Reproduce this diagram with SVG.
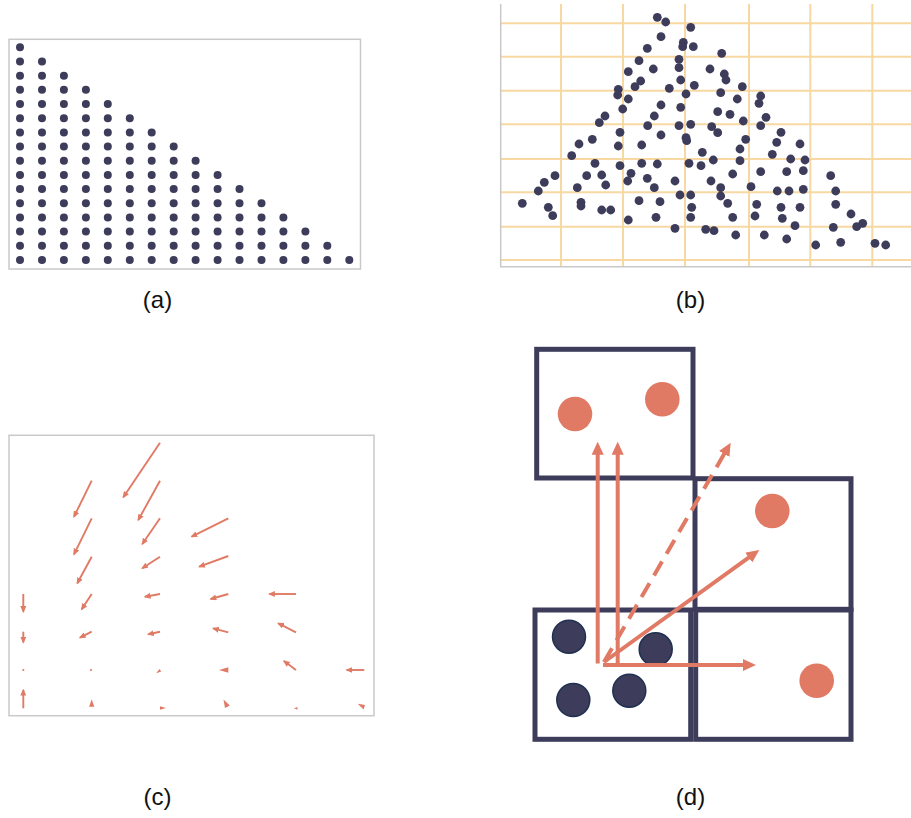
<svg xmlns="http://www.w3.org/2000/svg" width="911" height="818" viewBox="0 0 911 818">
<style>
.frame{fill:none;stroke:#c9c9c9;stroke-width:1.5}
.grid line{stroke:#f8d8a2;stroke-width:2}
.lbl{font-family:"Liberation Sans",Arial,sans-serif;font-size:24px;fill:#111;text-anchor:middle}
.qv{stroke:#e07a64;stroke-width:1.9;fill:none;marker-end:url(#qh)}
.qt{fill:#e07a64}
.box{fill:none;stroke:#3d3c5a;stroke-width:5}
.oc{fill:#e07a64}
.dc{fill:#3d3c5a;stroke:#1f3050;stroke-width:1.5}
.ar{stroke:#e07a64;stroke-width:4;fill:none;marker-end:url(#dh)}
</style>
<defs>
<marker id="qh" markerUnits="userSpaceOnUse" markerWidth="7" markerHeight="6" viewBox="0 0 10 10" refX="8" refY="5" orient="auto" preserveAspectRatio="none"><path d="M0,0 L10,5 L0,10 z" fill="#e07a64"/></marker>
<marker id="dh" markerUnits="userSpaceOnUse" markerWidth="13" markerHeight="12" viewBox="0 0 13 12" refX="5" refY="6" orient="auto"><path d="M0,0 L13,6 L0,12 z" fill="#e07a64"/></marker>
</defs>
<rect width="911" height="818" fill="#fff"/>

<!-- Panel (a) -->
<g id="panel-a">
<rect class="frame" x="9" y="39.3" width="351.5" height="229.7"/>
<g fill="#3d3c5a">
<circle cx="20" cy="47.3" r="4"/>
<circle cx="20" cy="61.5" r="4"/><circle cx="42" cy="61.5" r="4"/>
<circle cx="20" cy="75.7" r="4"/><circle cx="42" cy="75.7" r="4"/><circle cx="63.9" cy="75.7" r="4"/>
<circle cx="20" cy="89.8" r="4"/><circle cx="42" cy="89.8" r="4"/><circle cx="63.9" cy="89.8" r="4"/><circle cx="85.9" cy="89.8" r="4"/>
<circle cx="20" cy="104" r="4"/><circle cx="42" cy="104" r="4"/><circle cx="63.9" cy="104" r="4"/><circle cx="85.9" cy="104" r="4"/><circle cx="107.8" cy="104" r="4"/>
<circle cx="20" cy="118.2" r="4"/><circle cx="42" cy="118.2" r="4"/><circle cx="63.9" cy="118.2" r="4"/><circle cx="85.9" cy="118.2" r="4"/><circle cx="107.8" cy="118.2" r="4"/><circle cx="129.8" cy="118.2" r="4"/>
<circle cx="20" cy="132.4" r="4"/><circle cx="42" cy="132.4" r="4"/><circle cx="63.9" cy="132.4" r="4"/><circle cx="85.9" cy="132.4" r="4"/><circle cx="107.8" cy="132.4" r="4"/><circle cx="129.8" cy="132.4" r="4"/><circle cx="151.7" cy="132.4" r="4"/>
<circle cx="20" cy="146.6" r="4"/><circle cx="42" cy="146.6" r="4"/><circle cx="63.9" cy="146.6" r="4"/><circle cx="85.9" cy="146.6" r="4"/><circle cx="107.8" cy="146.6" r="4"/><circle cx="129.8" cy="146.6" r="4"/><circle cx="151.7" cy="146.6" r="4"/><circle cx="173.7" cy="146.6" r="4"/>
<circle cx="20" cy="160.7" r="4"/><circle cx="42" cy="160.7" r="4"/><circle cx="63.9" cy="160.7" r="4"/><circle cx="85.9" cy="160.7" r="4"/><circle cx="107.8" cy="160.7" r="4"/><circle cx="129.8" cy="160.7" r="4"/><circle cx="151.7" cy="160.7" r="4"/><circle cx="173.7" cy="160.7" r="4"/><circle cx="195.6" cy="160.7" r="4"/>
<circle cx="20" cy="174.9" r="4"/><circle cx="42" cy="174.9" r="4"/><circle cx="63.9" cy="174.9" r="4"/><circle cx="85.9" cy="174.9" r="4"/><circle cx="107.8" cy="174.9" r="4"/><circle cx="129.8" cy="174.9" r="4"/><circle cx="151.7" cy="174.9" r="4"/><circle cx="173.7" cy="174.9" r="4"/><circle cx="195.6" cy="174.9" r="4"/><circle cx="217.6" cy="174.9" r="4"/>
<circle cx="20" cy="189.1" r="4"/><circle cx="42" cy="189.1" r="4"/><circle cx="63.9" cy="189.1" r="4"/><circle cx="85.9" cy="189.1" r="4"/><circle cx="107.8" cy="189.1" r="4"/><circle cx="129.8" cy="189.1" r="4"/><circle cx="151.7" cy="189.1" r="4"/><circle cx="173.7" cy="189.1" r="4"/><circle cx="195.6" cy="189.1" r="4"/><circle cx="217.6" cy="189.1" r="4"/><circle cx="239.5" cy="189.1" r="4"/>
<circle cx="20" cy="203.3" r="4"/><circle cx="42" cy="203.3" r="4"/><circle cx="63.9" cy="203.3" r="4"/><circle cx="85.9" cy="203.3" r="4"/><circle cx="107.8" cy="203.3" r="4"/><circle cx="129.8" cy="203.3" r="4"/><circle cx="151.7" cy="203.3" r="4"/><circle cx="173.7" cy="203.3" r="4"/><circle cx="195.6" cy="203.3" r="4"/><circle cx="217.6" cy="203.3" r="4"/><circle cx="239.5" cy="203.3" r="4"/><circle cx="261.5" cy="203.3" r="4"/>
<circle cx="20" cy="217.5" r="4"/><circle cx="42" cy="217.5" r="4"/><circle cx="63.9" cy="217.5" r="4"/><circle cx="85.9" cy="217.5" r="4"/><circle cx="107.8" cy="217.5" r="4"/><circle cx="129.8" cy="217.5" r="4"/><circle cx="151.7" cy="217.5" r="4"/><circle cx="173.7" cy="217.5" r="4"/><circle cx="195.6" cy="217.5" r="4"/><circle cx="217.6" cy="217.5" r="4"/><circle cx="239.5" cy="217.5" r="4"/><circle cx="261.5" cy="217.5" r="4"/><circle cx="283.4" cy="217.5" r="4"/>
<circle cx="20" cy="231.6" r="4"/><circle cx="42" cy="231.6" r="4"/><circle cx="63.9" cy="231.6" r="4"/><circle cx="85.9" cy="231.6" r="4"/><circle cx="107.8" cy="231.6" r="4"/><circle cx="129.8" cy="231.6" r="4"/><circle cx="151.7" cy="231.6" r="4"/><circle cx="173.7" cy="231.6" r="4"/><circle cx="195.6" cy="231.6" r="4"/><circle cx="217.6" cy="231.6" r="4"/><circle cx="239.5" cy="231.6" r="4"/><circle cx="261.5" cy="231.6" r="4"/><circle cx="283.4" cy="231.6" r="4"/><circle cx="305.4" cy="231.6" r="4"/>
<circle cx="20" cy="245.8" r="4"/><circle cx="42" cy="245.8" r="4"/><circle cx="63.9" cy="245.8" r="4"/><circle cx="85.9" cy="245.8" r="4"/><circle cx="107.8" cy="245.8" r="4"/><circle cx="129.8" cy="245.8" r="4"/><circle cx="151.7" cy="245.8" r="4"/><circle cx="173.7" cy="245.8" r="4"/><circle cx="195.6" cy="245.8" r="4"/><circle cx="217.6" cy="245.8" r="4"/><circle cx="239.5" cy="245.8" r="4"/><circle cx="261.5" cy="245.8" r="4"/><circle cx="283.4" cy="245.8" r="4"/><circle cx="305.4" cy="245.8" r="4"/><circle cx="327.3" cy="245.8" r="4"/>
<circle cx="20" cy="260" r="4"/><circle cx="42" cy="260" r="4"/><circle cx="63.9" cy="260" r="4"/><circle cx="85.9" cy="260" r="4"/><circle cx="107.8" cy="260" r="4"/><circle cx="129.8" cy="260" r="4"/><circle cx="151.7" cy="260" r="4"/><circle cx="173.7" cy="260" r="4"/><circle cx="195.6" cy="260" r="4"/><circle cx="217.6" cy="260" r="4"/><circle cx="239.5" cy="260" r="4"/><circle cx="261.5" cy="260" r="4"/><circle cx="283.4" cy="260" r="4"/><circle cx="305.4" cy="260" r="4"/><circle cx="327.3" cy="260" r="4"/><circle cx="349.3" cy="260" r="4"/>
</g>
<text class="lbl" x="157.5" y="308">(a)</text>
</g>

<!-- Panel (b) -->
<g id="panel-b">
<g class="grid">
<line x1="561" y1="4" x2="561" y2="266"/><line x1="623" y1="4" x2="623" y2="266"/><line x1="685" y1="4" x2="685" y2="266"/><line x1="749" y1="4" x2="749" y2="266"/><line x1="810.3" y1="4" x2="810.3" y2="266"/><line x1="872.3" y1="4" x2="872.3" y2="266"/>
<line x1="501" y1="23.3" x2="911" y2="23.3"/><line x1="501" y1="56.7" x2="911" y2="56.7"/><line x1="501" y1="90.7" x2="911" y2="90.7"/><line x1="501" y1="124.3" x2="911" y2="124.3"/><line x1="501" y1="159" x2="911" y2="159"/><line x1="501" y1="192.3" x2="911" y2="192.3"/><line x1="501" y1="226.7" x2="911" y2="226.7"/><line x1="501" y1="260" x2="911" y2="260"/>
</g>
<path d="M500.7,4 V266.8 H911" fill="none" stroke="#c9c9c9" stroke-width="1.5"/>
<g fill="#3d3c5a">
<circle cx="657.3" cy="17.3" r="4.4"/><circle cx="665.7" cy="22" r="4.4"/><circle cx="690.7" cy="27.3" r="4.4"/><circle cx="661" cy="36.7" r="4.4"/><circle cx="683.3" cy="42.3" r="4.4"/><circle cx="682.7" cy="46.7" r="4.4"/><circle cx="693.3" cy="46.7" r="4.4"/><circle cx="647.3" cy="48.3" r="4.4"/><circle cx="721.7" cy="53.3" r="4.4"/><circle cx="639" cy="60.7" r="4.4"/>
<circle cx="679" cy="59.3" r="4.4"/><circle cx="679" cy="67.7" r="4.4"/><circle cx="653.3" cy="69" r="4.4"/><circle cx="710" cy="69" r="4.4"/><circle cx="628.3" cy="71.7" r="4.4"/><circle cx="724.3" cy="74" r="4.4"/><circle cx="726" cy="80" r="4.4"/><circle cx="640.7" cy="81" r="4.4"/><circle cx="680.7" cy="80" r="4.4"/><circle cx="635" cy="86.7" r="4.4"/>
<circle cx="694.3" cy="85.3" r="4.4"/><circle cx="669.3" cy="88.3" r="4.4"/><circle cx="742.3" cy="86.7" r="4.4"/><circle cx="618.3" cy="89.3" r="4.4"/><circle cx="617.7" cy="95" r="4.4"/><circle cx="686" cy="94" r="4.4"/><circle cx="720.7" cy="92.7" r="4.4"/><circle cx="760.7" cy="96" r="4.4"/><circle cx="628.3" cy="99" r="4.4"/><circle cx="737.3" cy="99" r="4.4"/>
<circle cx="759" cy="103.3" r="4.4"/><circle cx="661" cy="105" r="4.4"/><circle cx="622.7" cy="109" r="4.4"/><circle cx="680.7" cy="107.3" r="4.4"/><circle cx="717.7" cy="111.7" r="4.4"/><circle cx="730" cy="114.3" r="4.4"/><circle cx="605" cy="116" r="4.4"/><circle cx="654.3" cy="116" r="4.4"/><circle cx="766" cy="117.3" r="4.4"/><circle cx="599.3" cy="122.7" r="4.4"/>
<circle cx="743.3" cy="121" r="4.4"/><circle cx="647.7" cy="125.7" r="4.4"/><circle cx="679" cy="125.7" r="4.4"/><circle cx="690.7" cy="124.3" r="4.4"/><circle cx="711.7" cy="126.7" r="4.4"/><circle cx="760.7" cy="125.7" r="4.4"/><circle cx="717.7" cy="132.7" r="4.4"/><circle cx="620" cy="132.3" r="4.4"/><circle cx="661" cy="135" r="4.4"/><circle cx="781" cy="132.3" r="4.4"/>
<circle cx="592.3" cy="139.3" r="4.4"/><circle cx="686" cy="137.7" r="4.4"/><circle cx="686.7" cy="140.7" r="4.4"/><circle cx="745.7" cy="139.3" r="4.4"/><circle cx="579" cy="144" r="4.4"/><circle cx="618.3" cy="146" r="4.4"/><circle cx="641.7" cy="145" r="4.4"/><circle cx="776.7" cy="142.3" r="4.4"/><circle cx="800" cy="144" r="4.4"/><circle cx="740" cy="149" r="4.4"/>
<circle cx="702.3" cy="152.3" r="4.4"/><circle cx="571.7" cy="155.7" r="4.4"/><circle cx="772.3" cy="154.3" r="4.4"/><circle cx="790.7" cy="159" r="4.4"/><circle cx="805" cy="160" r="4.4"/><circle cx="713.3" cy="160" r="4.4"/><circle cx="740" cy="160.7" r="4.4"/><circle cx="595" cy="163.3" r="4.4"/><circle cx="641.7" cy="163.3" r="4.4"/><circle cx="657.3" cy="164" r="4.4"/>
<circle cx="689" cy="163.3" r="4.4"/><circle cx="701" cy="165.7" r="4.4"/><circle cx="620" cy="165.7" r="4.4"/><circle cx="555" cy="175.7" r="4.4"/><circle cx="586.7" cy="175.7" r="4.4"/><circle cx="601.7" cy="175" r="4.4"/><circle cx="631" cy="173.3" r="4.4"/><circle cx="647.3" cy="178.3" r="4.4"/><circle cx="732.7" cy="174" r="4.4"/><circle cx="760.7" cy="171.7" r="4.4"/>
<circle cx="786.7" cy="171.7" r="4.4"/><circle cx="803.3" cy="170.7" r="4.4"/><circle cx="830.7" cy="175.7" r="4.4"/><circle cx="544.3" cy="182.3" r="4.4"/><circle cx="627.7" cy="181" r="4.4"/><circle cx="675" cy="181" r="4.4"/><circle cx="711" cy="181" r="4.4"/><circle cx="605.7" cy="185" r="4.4"/><circle cx="577.3" cy="187.7" r="4.4"/><circle cx="654.3" cy="187.7" r="4.4"/>
<circle cx="720.7" cy="187.7" r="4.4"/><circle cx="751" cy="186.7" r="4.4"/><circle cx="538.3" cy="191" r="4.4"/><circle cx="777.3" cy="191" r="4.4"/><circle cx="789" cy="191" r="4.4"/><circle cx="803.3" cy="189.3" r="4.4"/><circle cx="835.7" cy="191" r="4.4"/><circle cx="680" cy="195" r="4.4"/><circle cx="690.7" cy="195" r="4.4"/><circle cx="720.7" cy="196" r="4.4"/>
<circle cx="522.3" cy="203.3" r="4.4"/><circle cx="581" cy="202.3" r="4.4"/><circle cx="581" cy="206" r="4.4"/><circle cx="639" cy="200.7" r="4.4"/><circle cx="660" cy="201.7" r="4.4"/><circle cx="727.7" cy="203.3" r="4.4"/><circle cx="756.7" cy="204.3" r="4.4"/><circle cx="835.7" cy="204.3" r="4.4"/><circle cx="548.3" cy="207.3" r="4.4"/><circle cx="601.7" cy="210" r="4.4"/>
<circle cx="610.7" cy="210" r="4.4"/><circle cx="691.7" cy="207.3" r="4.4"/><circle cx="781" cy="207.3" r="4.4"/><circle cx="800" cy="207.3" r="4.4"/><circle cx="552.7" cy="215.7" r="4.4"/><circle cx="628.3" cy="220" r="4.4"/><circle cx="656" cy="217.3" r="4.4"/><circle cx="690.7" cy="217.3" r="4.4"/><circle cx="732.7" cy="217.3" r="4.4"/><circle cx="755" cy="216" r="4.4"/>
<circle cx="782.3" cy="218.3" r="4.4"/><circle cx="851" cy="214" r="4.4"/><circle cx="675" cy="228.3" r="4.4"/><circle cx="705.7" cy="229.3" r="4.4"/><circle cx="714" cy="230.7" r="4.4"/><circle cx="795" cy="225.7" r="4.4"/><circle cx="833.3" cy="227.3" r="4.4"/><circle cx="856.7" cy="226.7" r="4.4"/><circle cx="862.7" cy="223.3" r="4.4"/><circle cx="735.7" cy="235" r="4.4"/>
<circle cx="764.3" cy="235" r="4.4"/><circle cx="786.7" cy="239" r="4.4"/><circle cx="815.7" cy="245" r="4.4"/><circle cx="840.7" cy="242.3" r="4.4"/><circle cx="875" cy="243.3" r="4.4"/><circle cx="885.7" cy="245" r="4.4"/>
</g>
<text class="lbl" x="690.5" y="308">(b)</text>
</g>

<!-- Panel (c) -->
<g id="panel-c">
<rect class="frame" x="9" y="435.3" width="365" height="280.4"/>
<g class="qv">
<path d="M160,442.7 L123.3,497.3"/>
<path d="M91.7,480.7 L74,516.7"/>
<path d="M160,480.7 L138.3,520"/>
<path d="M91.7,518.3 L74,554.3"/>
<path d="M160,518.3 L142.3,544"/>
<path d="M228.3,518.3 L191.7,536.7"/>
<path d="M91.7,556.7 L77.3,583.3"/>
<path d="M160,556.7 L142.3,568.3"/>
<path d="M228.3,556 L199.3,566.7"/>
<path d="M23.3,594 L23.3,611.7"/>
<path d="M91.7,594 L81.7,609.3"/>
<path d="M160,594 L145,596.7"/>
<path d="M228.3,594 L210.7,599"/>
<path d="M296,594 L269.3,594"/>
<path d="M23.3,631.7 L23.3,642.3"/>
<path d="M91.7,631.7 L80,637.7"/>
<path d="M160,631.7 L148.3,634.3"/>
<path d="M228.3,632.3 L213.3,628.3"/>
<path d="M296,632.3 L278.3,623.3"/>
<path d="M296,670 L284,661"/>
<path d="M364.3,670 L346.7,670"/>
<path d="M23.3,708.3 L23.3,690"/>
</g>
<g class="qt">
<circle cx="23.3" cy="670" r="1.1"/>
<circle cx="91" cy="670" r="1.1"/>
<polygon points="156.2,673.2 159.5,669 161.3,671.6"/>
<polygon points="219,670 228.3,667.3 228.3,672.7"/>
<polygon points="91.7,699.3 89.1,706.7 94.3,706.7"/>
<polygon points="160,706.3 166,708 160,709.7"/>
<polygon points="223.5,699.5 229.8,705.5 225,708"/>
<polygon points="294,708.3 297.5,707 297.5,709.7"/>
<polygon points="357.7,703.8 365,705 363.5,709.5"/>
</g>
<text class="lbl" x="157.5" y="805">(c)</text>
</g>

<!-- Panel (d) -->
<g id="cell-top-left">
<rect class="box" x="536.7" y="349.3" width="156.3" height="128.7"/>
<circle class="oc" cx="575" cy="414" r="17.3"/>
<circle class="oc" cx="662.3" cy="399.3" r="17.3"/>
</g>
<g id="cell-mid-right">
<rect class="box" x="695" y="478.7" width="156" height="130.6"/>
<circle class="oc" cx="772.3" cy="511" r="17.3"/>
</g>
<g id="cell-bottom-left">
<rect class="box" x="535" y="610" width="155.7" height="129.3"/>
<circle class="dc" cx="569" cy="636.7" r="16.5"/>
<circle class="dc" cx="655.7" cy="649.3" r="16.5"/>
<circle class="dc" cx="573.3" cy="700" r="16.5"/>
<circle class="dc" cx="629.3" cy="690.7" r="16.5"/>
</g>
<g id="cell-bottom-right">
<rect class="box" x="695.7" y="610" width="155.3" height="129.3"/>
<circle class="oc" cx="816.7" cy="680.7" r="17.3"/>
</g>
<g id="connectors">
<path class="ar" d="M597.7,663.5 V449.7"/>
<path class="ar" d="M617.7,665 V449.7"/>
<path class="ar" d="M603,665 H748"/>
<path class="ar" d="M604,662 L752.8,554.7"/>
<path class="ar" d="M604,662 L726.7,449.6" stroke-dasharray="16 9"/>
</g>
<text class="lbl" x="690.5" y="805">(d)</text>
</svg>
